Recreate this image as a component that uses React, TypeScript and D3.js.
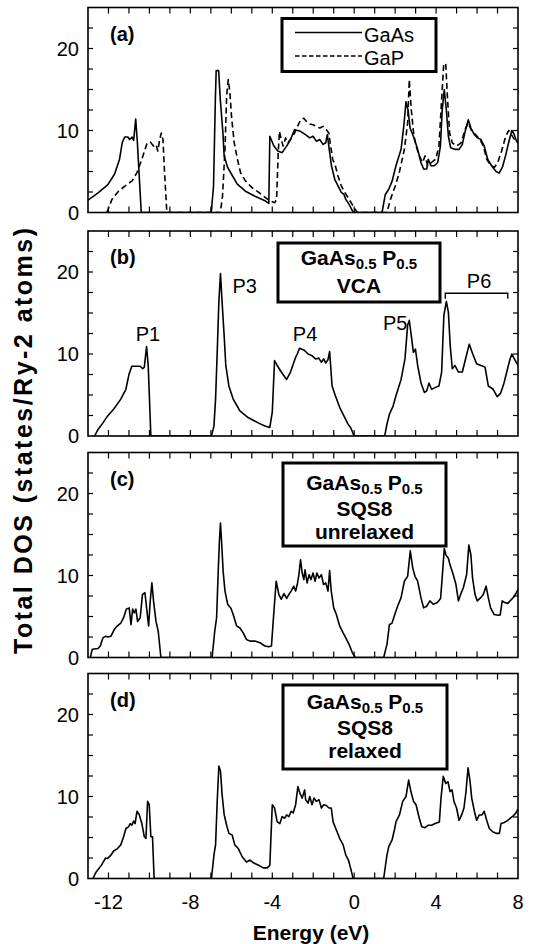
import React from 'react';
import * as d3 from 'd3';

type Pt = [number, number];

// Total density of states (states/Ry-2 atoms) versus energy (eV)
const gaAs: Pt[] = [
  [-13, 1.5], [-12.51, 2.4], [-12.03, 3.4], [-11.7, 4.7], [-11.46, 6.5], [-11.33, 8.5], [-11.21, 9.2], [-11.05, 9.2],
  [-10.97, 8.9], [-10.85, 9.2], [-10.77, 8.8], [-10.67, 11.4], [-10.59, 8.6], [-10.4, 0],
  [-6.98, 0], [-6.87, 3.2], [-6.78, 13.8], [-6.74, 17.3], [-6.62, 17.3], [-6.54, 13.8], [-6.41, 9.7], [-6.35, 6.9],
  [-6.18, 5.5], [-5.94, 4.45], [-5.71, 3.45], [-5.31, 2.6], [-4.82, 1.95], [-4.33, 1.4], [-4.17, 1.1], [-4.12, 9.3],
  [-3.92, 8.1], [-3.73, 7.5], [-3.52, 7.3], [-3.3, 8.1], [-3.11, 8.9], [-2.91, 10.1], [-2.62, 9.9], [-2.38, 9.5],
  [-2.17, 9.1], [-2.01, 9.3], [-1.85, 8.7], [-1.68, 8.9], [-1.52, 8.3], [-1.39, 8.5], [-1.31, 9.5], [-1.23, 7.9],
  [-1.11, 5.7], [-0.95, 4.05], [-0.79, 3.25], [-0.63, 2.45], [-0.5, 2.2], [-0.41, 1.6], [-0.25, 1.0], [-0.04, 0],
  [1.36, 0], [1.52, 2.2], [1.68, 2.8], [1.85, 3.8], [2.04, 5.7], [2.29, 7.7], [2.42, 10.5], [2.53, 13.5], [2.63, 12.5],
  [2.73, 10.3], [2.89, 9.3], [3.1, 7.7], [3.26, 6.1], [3.39, 5.3], [3.54, 5.3], [3.62, 6.5], [3.75, 5.7], [3.91, 5.7],
  [4.08, 6.1], [4.21, 8.1], [4.3, 12.5], [4.4, 15.0], [4.5, 12.5], [4.6, 9.3], [4.71, 7.9], [4.92, 7.7], [5.12, 7.7],
  [5.28, 8.3], [5.44, 10.1], [5.57, 11.3], [5.7, 10.3], [5.87, 9.5], [6.03, 9.1], [6.19, 8.9], [6.35, 8.1],
  [6.52, 6.5], [6.71, 5.7], [6.93, 5.0], [7.08, 4.8], [7.25, 5.6], [7.4, 7.0], [7.55, 8.6], [7.7, 10.0], [7.8, 9.6],
  [7.9, 8.9], [8.0, 8.4],
];

const gaP: Pt[] = [
  [-12.08, 0], [-11.83, 1.6], [-11.51, 2.6], [-11.18, 3.25], [-10.85, 3.85], [-10.61, 4.85], [-10.37, 6.5],
  [-10.12, 8.4], [-9.96, 8.6], [-9.8, 8.1], [-9.68, 8.3], [-9.59, 7.5], [-9.5, 8.9], [-9.42, 9.7], [-9.34, 8.9],
  [-9.26, 4.85], [-9.15, 0],
  [-6.54, 0], [-6.43, 2.0], [-6.31, 7.7], [-6.23, 14.2], [-6.15, 16.2], [-6.07, 14.6], [-5.99, 11.7], [-5.86, 8.5],
  [-5.7, 6.5], [-5.55, 4.85], [-5.31, 3.85], [-4.98, 3.0], [-4.66, 2.45], [-4.33, 1.8], [-4.09, 1.4], [-3.88, 1.2],
  [-3.79, 1.6], [-3.71, 7.3], [-3.65, 9.9], [-3.56, 8.9], [-3.47, 8.1], [-3.35, 9.1], [-3.24, 8.5], [-3.11, 8.9],
  [-2.91, 9.7], [-2.62, 11.3], [-2.46, 11.5], [-2.33, 11.1], [-2.17, 10.8], [-2.01, 10.7], [-1.85, 10.5],
  [-1.68, 10.3], [-1.52, 10.5], [-1.36, 10.1], [-1.24, 9.7], [-1.15, 8.1], [-1.05, 6.5], [-0.92, 5.7], [-0.79, 4.45],
  [-0.63, 3.25], [-0.46, 2.45], [-0.25, 1.6], [-0.05, 0.8], [0.15, 0],
  [1.6, 0], [1.77, 1.6], [2.01, 3.25], [2.2, 4.85], [2.45, 7.7], [2.61, 10.9], [2.69, 16.2], [2.79, 12.5], [2.9, 9.7],
  [3.02, 8.1], [3.18, 6.9], [3.34, 6.1], [3.46, 6.9], [3.59, 5.7], [3.78, 6.1], [3.98, 6.5], [4.14, 8.1], [4.27, 13.8],
  [4.37, 18.0], [4.47, 18.2], [4.56, 13.8], [4.66, 9.7], [4.79, 8.5], [5.0, 8.1], [5.22, 8.5], [5.41, 10.1],
  [5.57, 10.9], [5.74, 9.9], [5.93, 9.5], [6.14, 8.9], [6.31, 8.1], [6.47, 6.5], [6.63, 5.9], [6.84, 5.5], [7.0, 6.0],
  [7.2, 7.5], [7.4, 9.3], [7.55, 10.0], [7.7, 9.4], [7.85, 8.8], [8.0, 8.6],
];

const vca: Pt[] = [
  [-12.68, 0], [-12.51, 0.8], [-12.27, 1.6], [-12.04, 2.45], [-11.72, 3.35], [-11.4, 4.5], [-11.15, 5.7],
  [-10.99, 7.6], [-10.86, 8.5], [-10.66, 8.5], [-10.45, 8.5], [-10.33, 8.2], [-10.25, 8.4], [-10.14, 10.9],
  [-10.06, 8.6], [-9.93, 0],
  [-6.97, 0], [-6.85, 1.2], [-6.77, 4.5], [-6.69, 10.2], [-6.61, 16.3], [-6.53, 19.8], [-6.45, 16.3], [-6.35, 12.2],
  [-6.27, 8.6], [-6.12, 6.1], [-5.91, 4.5], [-5.58, 3.05], [-5.18, 2.25], [-4.69, 1.6], [-4.33, 1.2], [-4.12, 1.05],
  [-4.0, 2.9], [-3.89, 9.2], [-3.76, 8.6], [-3.56, 7.8], [-3.3, 6.9], [-3.11, 7.8], [-2.86, 9.6], [-2.78, 10.0],
  [-2.67, 10.7], [-2.46, 10.5], [-2.25, 10.0], [-2.06, 9.8], [-1.89, 9.4], [-1.73, 9.5], [-1.6, 9.0], [-1.49, 9.4],
  [-1.39, 8.9], [-1.28, 9.3], [-1.2, 10.3], [-1.15, 8.6], [-1.08, 6.1], [-0.92, 4.9], [-0.71, 3.5], [-0.46, 2.25],
  [-0.3, 1.45], [-0.17, 1.0], [0.0, 0],
  [1.49, 0], [1.6, 1.45], [1.72, 2.65], [1.9, 3.65], [2.04, 4.9], [2.29, 6.9], [2.48, 9.4], [2.61, 13.5], [2.69, 14.1],
  [2.79, 12.2], [2.89, 10.2], [2.99, 10.6], [3.1, 8.6], [3.26, 6.5], [3.43, 5.3], [3.54, 5.5], [3.65, 6.45],
  [3.78, 5.7], [3.95, 5.9], [4.14, 6.1], [4.27, 7.8], [4.38, 14.7], [4.5, 16.4], [4.6, 15.1], [4.69, 11.0],
  [4.79, 8.2], [4.92, 8.6], [5.09, 7.8], [5.28, 7.8], [5.46, 9.6], [5.62, 11.2], [5.79, 10.0], [5.98, 8.8],
  [6.19, 8.6], [6.39, 8.4], [6.55, 6.1], [6.79, 5.7], [6.98, 4.8], [7.15, 5.2], [7.3, 6.3], [7.45, 7.8], [7.6, 9.3],
  [7.7, 10.0], [7.8, 9.5], [8.0, 8.6],
];

const sqsUnrelaxed: Pt[] = [
  [-12.89, 0], [-12.79, 1.0], [-12.51, 1.1], [-12.4, 1.4], [-12.27, 2.4], [-12.14, 2.6], [-12.04, 2.5], [-11.88, 2.6],
  [-11.72, 3.4], [-11.59, 3.8], [-11.4, 4.2], [-11.26, 4.85], [-11.13, 5.9], [-10.99, 6.05], [-10.9, 4.0],
  [-10.82, 5.9], [-10.74, 5.45], [-10.66, 5.9], [-10.58, 4.4], [-10.45, 4.85], [-10.34, 7.7], [-10.22, 7.9],
  [-10.12, 5.65], [-10.04, 3.85], [-9.96, 6.9], [-9.88, 9.1], [-9.8, 6.9], [-9.68, 4.4], [-9.57, 3.2], [-9.44, 0],
  [-6.94, 0], [-6.81, 3.2], [-6.72, 4.85], [-6.64, 10.5], [-6.58, 14.3], [-6.53, 16.4], [-6.48, 14.3], [-6.4, 10.5],
  [-6.31, 8.1], [-6.18, 6.5], [-6.02, 6.0], [-5.91, 5.25], [-5.74, 3.85], [-5.58, 3.6], [-5.42, 3.0], [-5.26, 2.2],
  [-5.09, 2.0], [-4.85, 2.0], [-4.6, 1.8], [-4.36, 1.4], [-4.17, 1.3], [-4.04, 1.4], [-3.92, 5.65], [-3.81, 9.3],
  [-3.68, 7.7], [-3.56, 7.1], [-3.43, 7.8], [-3.3, 7.2], [-3.19, 7.7], [-3.08, 8.1], [-2.95, 8.7], [-2.86, 8.1],
  [-2.78, 8.9], [-2.7, 10.1], [-2.62, 11.9], [-2.54, 10.3], [-2.46, 9.5], [-2.4, 10.7], [-2.3, 9.1], [-2.2, 10.1],
  [-2.11, 9.5], [-2.01, 10.3], [-1.91, 9.3], [-1.82, 10.3], [-1.72, 9.7], [-1.6, 10.1], [-1.5, 8.9], [-1.39, 9.1],
  [-1.28, 8.1], [-1.2, 10.6], [-1.12, 8.1], [-1.0, 6.05], [-0.87, 5.25], [-0.71, 3.85], [-0.54, 3.0], [-0.41, 2.4],
  [-0.25, 1.6], [-0.09, 0.6], [0.05, 0],
  [1.44, 0], [1.6, 1.6], [1.72, 4.0], [1.85, 4.2], [2.01, 5.45], [2.12, 6.25], [2.29, 7.3], [2.45, 9.3], [2.61, 9.9],
  [2.74, 13.0], [2.86, 10.9], [2.97, 9.9], [3.1, 9.3], [3.26, 7.3], [3.39, 6.05], [3.54, 6.25], [3.7, 6.9],
  [3.86, 6.5], [4.06, 6.7], [4.22, 7.2], [4.32, 10.5], [4.4, 13.3], [4.48, 12.5], [4.6, 12.1], [4.68, 11.3],
  [4.84, 10.1], [4.97, 8.9], [5.09, 6.9], [5.2, 7.7], [5.33, 8.5], [5.49, 10.1], [5.6, 13.7], [5.7, 12.5],
  [5.78, 9.7], [5.9, 7.7], [6.01, 6.9], [6.18, 7.3], [6.31, 7.7], [6.44, 8.7], [6.55, 7.3], [6.66, 6.05],
  [6.83, 5.25], [7.04, 5.15], [7.13, 5.2], [7.23, 6.9], [7.35, 6.7], [7.5, 6.6], [7.65, 7.0], [7.8, 7.4],
  [7.9, 7.8], [8.0, 8.3],
];

const sqsRelaxed: Pt[] = [
  [-12.76, 0], [-12.6, 0.8], [-12.35, 1.6], [-12.14, 2.5], [-12.04, 2.45], [-11.88, 2.85], [-11.75, 3.35],
  [-11.56, 3.65], [-11.4, 4.1], [-11.26, 5.1], [-11.15, 6.1], [-11.02, 6.3], [-10.94, 6.7], [-10.86, 6.5],
  [-10.77, 7.0], [-10.7, 6.7], [-10.61, 8.2], [-10.5, 7.8], [-10.37, 6.7], [-10.25, 5.1], [-10.17, 4.9],
  [-10.09, 9.4], [-10.01, 9.0], [-9.93, 5.1], [-9.85, 5.1], [-9.77, 0],
  [-6.97, 0], [-6.85, 2.85], [-6.77, 4.1], [-6.69, 9.4], [-6.61, 13.7], [-6.53, 13.1], [-6.45, 10.2], [-6.35, 7.8],
  [-6.23, 6.5], [-6.12, 5.5], [-5.96, 5.3], [-5.83, 4.1], [-5.66, 3.65], [-5.47, 2.65], [-5.26, 2.0], [-5.09, 2.25],
  [-4.88, 1.85], [-4.69, 1.65], [-4.44, 1.3], [-4.25, 1.3], [-4.12, 1.6], [-4.0, 9.0], [-3.89, 8.6], [-3.76, 6.9],
  [-3.63, 6.7], [-3.52, 7.55], [-3.4, 7.35], [-3.3, 7.75], [-3.19, 7.55], [-3.08, 8.2], [-2.98, 8.0], [-2.86, 9.0],
  [-2.75, 11.2], [-2.65, 10.4], [-2.54, 9.8], [-2.42, 10.8], [-2.37, 9.6], [-2.25, 9.2], [-2.17, 10.0],
  [-2.06, 9.0], [-1.96, 9.8], [-1.85, 9.4], [-1.72, 9.6], [-1.6, 8.6], [-1.49, 9.0], [-1.36, 8.9], [-1.23, 8.6],
  [-1.12, 8.6], [-1.03, 6.9], [-0.9, 6.1], [-0.71, 4.9], [-0.54, 4.1], [-0.41, 2.85], [-0.28, 2.25], [-0.17, 1.2],
  [-0.05, 0],
  [1.44, 0], [1.6, 2.85], [1.69, 3.9], [1.85, 4.7], [1.98, 6.1], [2.04, 6.9], [2.21, 7.75], [2.37, 9.4], [2.53, 10.0],
  [2.66, 12.0], [2.77, 10.6], [2.9, 9.4], [3.02, 9.0], [3.18, 7.35], [3.3, 6.3], [3.46, 6.2], [3.62, 6.5],
  [3.78, 6.5], [3.95, 6.7], [4.16, 6.9], [4.24, 9.8], [4.35, 12.45], [4.47, 11.6], [4.58, 11.8], [4.68, 10.6],
  [4.78, 10.8], [4.87, 9.4], [5.0, 8.6], [5.12, 7.1], [5.25, 7.75], [5.36, 8.6], [5.46, 10.6], [5.56, 13.5],
  [5.66, 11.8], [5.74, 9.8], [5.87, 8.2], [5.98, 7.1], [6.11, 7.75], [6.24, 7.75], [6.35, 8.2], [6.47, 7.1],
  [6.6, 6.1], [6.76, 5.7], [6.96, 5.5], [7.09, 5.5], [7.17, 6.7], [7.3, 6.8], [7.45, 7.0], [7.6, 7.3], [7.75, 7.6],
  [7.9, 8.0], [8.0, 8.5],
];

const energyDomain: [number, number] = [-13, 8];
const dosDomain: [number, number] = [0, 25];
const xTickLabels = [-12, -8, -4, 0, 4, 8];
const yTickLabels = [0, 10, 20];
const panelLetters = ['(a)', '(b)', '(c)', '(d)'];
const peakLabels = [
  { text: 'P1', e: -10.07, v: 11.6 },
  { text: 'P3', e: -5.35, v: 17.4 },
  { text: 'P4', e: -2.4, v: 11.6 },
  { text: 'P5', e: 2.0, v: 12.9 },
  { text: 'P6', e: 6.1, v: 18.1 },
];
const p6Range: [number, number] = [4.45, 7.5];

const FONT = "'Liberation Sans', Arial, Helvetica, sans-serif";
const W = 536;
const H = 944;
const LEFT = 88;
const RIGHT = 518;
const PANEL_H = 205;
const panelTops = [7.5, 231, 452.5, 673.5];

const x = d3.scaleLinear().domain(energyDomain).range([LEFT, RIGHT]);

function Panel({ idx, top, children }: { idx: number; top: number; children?: React.ReactNode }) {
  const y = d3.scaleLinear().domain(dosDomain).range([top + PANEL_H, top]);
  const xt = d3.range(-12, 8);
  const yt = d3.range(2.5, 25, 2.5);
  const bottom = top + PANEL_H;
  return (
    <g>
      <defs>
        <clipPath id={`clip${idx}`}>
          <rect x={LEFT} y={top} width={RIGHT - LEFT} height={PANEL_H} />
        </clipPath>
      </defs>
      <g clipPath={`url(#clip${idx})`}>{children}</g>
      {xt.map((t) => (
        <g key={`x${t}`} stroke="#000" strokeWidth={1.2}>
          <line x1={x(t)} x2={x(t)} y1={top} y2={top + 6} />
          <line x1={x(t)} x2={x(t)} y1={bottom} y2={bottom - 6} />
        </g>
      ))}
      {yt.map((t) => (
        <g key={`y${t}`} stroke="#000" strokeWidth={1.2}>
          <line x1={LEFT} x2={LEFT + 5} y1={y(t)} y2={y(t)} />
          <line x1={RIGHT} x2={RIGHT - 5} y1={y(t)} y2={y(t)} />
        </g>
      ))}
      <rect x={LEFT} y={top} width={RIGHT - LEFT} height={PANEL_H} fill="none" stroke="#000" strokeWidth={1.6} />
      {yTickLabels.map((t) => (
        <text key={`yl${t}`} x={79} y={y(t) + 7} textAnchor="end" fontSize={20} fontFamily={FONT}>
          {t}
        </text>
      ))}
      <text x={110} y={top + 33} fontSize={20} fontWeight="bold" fontFamily={FONT}>
        {panelLetters[idx]}
      </text>
    </g>
  );
}

function Formula({ cx, baseline }: { cx: number; baseline: number }) {
  return (
    <text x={cx} y={baseline} textAnchor="middle" fontSize={21} fontWeight="bold" fontFamily={FONT}>
      GaAs
      <tspan dy={4} fontSize={15}>0.5</tspan>
      <tspan dy={-4}> P</tspan>
      <tspan dy={4} fontSize={15}>0.5</tspan>
    </text>
  );
}

export default function App() {
  const ys = panelTops.map((top) => d3.scaleLinear().domain(dosDomain).range([top + PANEL_H, top]));
  const lineFor = (i: number) =>
    d3
      .line<Pt>()
      .x((d) => x(d[0]))
      .y((d) => ys[i](d[1]));

  const curveStyle = { fill: 'none', stroke: '#000', strokeWidth: 1.6, strokeLinejoin: 'round' as const };
  const boxText = { textAnchor: 'middle' as const, fontSize: 21, fontWeight: 'bold', fontFamily: FONT };

  return (
    <svg width={W} height={H} viewBox={`0 0 ${W} ${H}`} style={{ display: 'block', position: 'absolute', left: 0, top: 0, background: '#fff' }}>
      <rect x={0} y={0} width={W} height={H} fill="#fff" />

      <Panel idx={0} top={panelTops[0]}>
        <path d={lineFor(0)(gaP) || ''} {...curveStyle} strokeDasharray="6,3.5" />
        <path d={lineFor(0)(gaAs) || ''} {...curveStyle} />
      </Panel>
      <Panel idx={1} top={panelTops[1]}>
        <path d={lineFor(1)(vca) || ''} {...curveStyle} />
      </Panel>
      <Panel idx={2} top={panelTops[2]}>
        <path d={lineFor(2)(sqsUnrelaxed) || ''} {...curveStyle} />
      </Panel>
      <Panel idx={3} top={panelTops[3]}>
        <path d={lineFor(3)(sqsRelaxed) || ''} {...curveStyle} />
      </Panel>

      {/* legend for panel (a) */}
      <rect x={282} y={18.5} width={154} height={53} fill="#fff" stroke="#000" strokeWidth={3} />
      <line x1={295} x2={362} y1={32.5} y2={32.5} stroke="#000" strokeWidth={1.4} />
      <line x1={295} x2={362} y1={56} y2={56} stroke="#000" strokeWidth={1.4} strokeDasharray="4.5,2.5" />
      <text x={364} y={42} fontSize={20} fontFamily={FONT}>GaAs</text>
      <text x={364} y={65} fontSize={20} fontFamily={FONT}>GaP</text>

      {/* panel (b) label box and peak labels */}
      <rect x={278} y={243} width={162} height={59} fill="#fff" stroke="#000" strokeWidth={3} />
      <Formula cx={359} baseline={265} />
      <text x={359} y={293} {...boxText}>VCA</text>
      {peakLabels.map((p) => (
        <text key={p.text} x={x(p.e)} y={ys[1](p.v)} textAnchor="middle" fontSize={20} fontFamily={FONT}>
          {p.text}
        </text>
      ))}
      <path
        d={`M${x(p6Range[0])},${ys[1](16.75)} V${ys[1](17.4)} H${x(p6Range[1])} V${ys[1](16.75)}`}
        fill="none"
        stroke="#000"
        strokeWidth={1.4}
      />

      {/* panel (c) label box */}
      <rect x={283} y={463} width={163} height={83} fill="#fff" stroke="#000" strokeWidth={3} />
      <Formula cx={364.5} baseline={490} />
      <text x={364.5} y={516} {...boxText}>SQS8</text>
      <text x={364.5} y={539} {...boxText}>unrelaxed</text>

      {/* panel (d) label box */}
      <rect x={283} y={685} width={164} height={84} fill="#fff" stroke="#000" strokeWidth={3} />
      <Formula cx={365} baseline={709} />
      <text x={365} y={735} {...boxText}>SQS8</text>
      <text x={365} y={758} {...boxText}>relaxed</text>

      {/* energy axis labels */}
      {xTickLabels.map((t) => (
        <text key={`xl${t}`} x={x(t)} y={909} textAnchor="middle" fontSize={20} fontFamily={FONT}>
          {t}
        </text>
      ))}
      <text x={311} y={940} textAnchor="middle" fontSize={21} fontWeight="bold" fontFamily={FONT}>
        Energy (eV)
      </text>
      <text
        transform="translate(32,441) rotate(-90)"
        textAnchor="middle"
        fontSize={25}
        fontWeight="bold"
        fontFamily={FONT}
        textLength={426}
        lengthAdjust="spacing"
      >
        Total DOS (states/Ry-2 atoms)
      </text>
    </svg>
  );
}
